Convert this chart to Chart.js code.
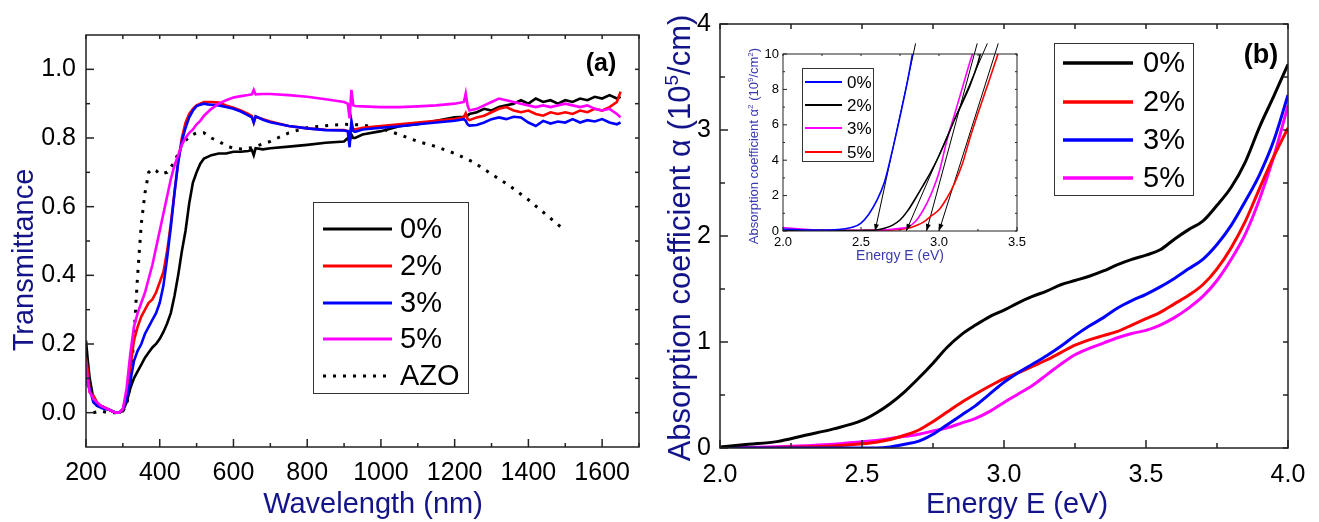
<!DOCTYPE html>
<html>
<head>
<meta charset="utf-8">
<title>Transmittance and absorption coefficient</title>
<script src="https://cdn.jsdelivr.net/npm/chart.js@4.4.1/dist/chart.umd.min.js"></script>
<style>
  html, body { margin: 0; padding: 0; background: #ffffff; }
  body { position: relative; width: 1319px; height: 522px; overflow: hidden; }
  canvas { position: absolute; }
</style>
</head>
<body>
<canvas id="chartA" width="650" height="522" style="left:0px; top:0px;"></canvas>
<canvas id="chartB" width="679" height="522" style="left:640px; top:0px;"></canvas>
<canvas id="chartInset" width="310" height="240" style="left:730px; top:30px;"></canvas>
<script>
// ---- panel (a): transmittance vs wavelength ----
var aWave = [200, 205, 210, 220, 230, 240, 250, 260, 270, 280, 290, 300, 310, 320, 330, 340, 350, 360, 370, 380,
  390, 400, 410, 420, 430, 440, 450, 460, 470, 480, 490, 500, 510, 520, 530, 540, 560, 580, 600, 620,
  640, 650, 655, 660, 680, 700, 750, 800, 850, 900, 910, 915, 920, 925, 930, 950, 1000, 1050, 1100, 1150,
  1200, 1225, 1230, 1235, 1240, 1260, 1280, 1300, 1320, 1340, 1360, 1380, 1400, 1420, 1440, 1460, 1480, 1500, 1520, 1540,
  1560, 1580, 1600, 1620, 1640, 1650];
var aT0 = [0.21, 0.15, 0.10, 0.04, 0.02, 0.02, 0.015, 0.01, 0.005, 0.0, 0.0, 0.005, 0.03, 0.07, 0.10, 0.12, 0.14, 0.16, 0.175, 0.19,
  0.20, 0.215, 0.235, 0.26, 0.29, 0.34, 0.40, 0.47, 0.53, 0.61, 0.67, 0.70, 0.725, 0.74, 0.745, 0.75, 0.755, 0.755, 0.76, 0.76,
  0.762, 0.765, 0.75, 0.77, 0.767, 0.77, 0.775, 0.78, 0.786, 0.79, 0.80, 0.79, 0.81, 0.80, 0.80, 0.81, 0.82, 0.834, 0.84, 0.85,
  0.86, 0.862, 0.868, 0.865, 0.87, 0.875, 0.885, 0.88, 0.89, 0.895, 0.90, 0.91, 0.90, 0.915, 0.905, 0.91, 0.90, 0.91, 0.905, 0.915,
  0.91, 0.92, 0.915, 0.925, 0.915, 0.92];
var aT2 = [0.16, 0.12, 0.06, 0.05, 0.03, 0.02, 0.015, 0.01, 0.005, 0.0, 0.0, 0.01, 0.05, 0.13, 0.21, 0.25, 0.28, 0.30, 0.32, 0.33,
  0.35, 0.38, 0.41, 0.47, 0.55, 0.64, 0.73, 0.80, 0.845, 0.87, 0.885, 0.895, 0.90, 0.905, 0.905, 0.905, 0.903, 0.895, 0.888, 0.88,
  0.87, 0.864, 0.845, 0.862, 0.855, 0.848, 0.835, 0.828, 0.824, 0.823, 0.82, 0.81, 0.835, 0.825, 0.825, 0.83, 0.835, 0.84, 0.845, 0.85,
  0.855, 0.86, 0.872, 0.855, 0.852, 0.86, 0.865, 0.875, 0.885, 0.89, 0.88, 0.875, 0.88, 0.87, 0.865, 0.875, 0.87, 0.875, 0.87, 0.88,
  0.875, 0.885, 0.88, 0.89, 0.905, 0.935];
var aT3 = [0.10, 0.08, 0.07, 0.03, 0.02, 0.015, 0.01, 0.01, 0.005, 0.0, 0.0, 0.01, 0.04, 0.09, 0.15, 0.18, 0.20, 0.23, 0.25, 0.27,
  0.29, 0.32, 0.37, 0.45, 0.54, 0.64, 0.73, 0.79, 0.83, 0.86, 0.88, 0.893, 0.897, 0.90, 0.898, 0.897, 0.895, 0.89, 0.885, 0.877,
  0.866, 0.86, 0.845, 0.863, 0.853, 0.846, 0.835, 0.828, 0.823, 0.822, 0.82, 0.773, 0.85, 0.82, 0.818, 0.825, 0.83, 0.834, 0.84, 0.845,
  0.85, 0.855, 0.85, 0.84, 0.836, 0.838, 0.845, 0.855, 0.86, 0.855, 0.862, 0.86, 0.845, 0.835, 0.85, 0.842, 0.848, 0.845, 0.855, 0.845,
  0.852, 0.848, 0.855, 0.845, 0.84, 0.845];
var aT5 = [0.15, 0.09, 0.06, 0.04, 0.03, 0.02, 0.015, 0.01, 0.005, 0.0, 0.0, 0.01, 0.07, 0.17, 0.25, 0.29, 0.32, 0.35, 0.39, 0.43,
  0.48, 0.53, 0.58, 0.63, 0.68, 0.72, 0.75, 0.78, 0.80, 0.815, 0.825, 0.84, 0.85, 0.865, 0.875, 0.885, 0.90, 0.91, 0.918, 0.922,
  0.925, 0.927, 0.94, 0.927, 0.928, 0.928, 0.925, 0.92, 0.913, 0.905, 0.90, 0.857, 0.94, 0.895, 0.893, 0.892, 0.89, 0.89, 0.892, 0.895,
  0.90, 0.905, 0.93, 0.895, 0.88, 0.885, 0.895, 0.905, 0.915, 0.91, 0.905, 0.90, 0.895, 0.89, 0.895, 0.89, 0.895, 0.90, 0.895, 0.89,
  0.895, 0.885, 0.88, 0.885, 0.87, 0.86];
var aWaveAZO = [220, 240, 260, 280, 300, 310, 320, 330, 340, 350, 360, 370, 380, 390, 400, 420, 440, 460, 480, 500,
  520, 540, 560, 580, 600, 620, 650, 700, 750, 800, 850, 900, 950, 1000, 1050, 1100, 1150, 1200, 1250, 1300,
  1350, 1400, 1450, 1500];
var aTAZO = [0.0, 0.005, 0.0, 0.0, 0.005, 0.02, 0.08, 0.22, 0.40, 0.55, 0.64, 0.70, 0.71, 0.705, 0.695, 0.70, 0.73, 0.78, 0.805, 0.815,
  0.815, 0.80, 0.79, 0.778, 0.77, 0.768, 0.772, 0.79, 0.815, 0.83, 0.836, 0.84, 0.838, 0.828, 0.81, 0.79, 0.775, 0.755, 0.73, 0.695,
  0.66, 0.62, 0.575, 0.53];
var aXTicks = [200, 400, 600, 800, 1000, 1200, 1400, 1600];
var aXMinor = [300, 500, 700, 900, 1100, 1300, 1500, 1700];
var aYTicks = [0, 0.2, 0.4, 0.6, 0.8, 1.0];
var aYMinor = [0.1, 0.3, 0.5, 0.7, 0.9];

// ---- panel (b): absorption coefficient vs energy ----
var bEnergy = [2.0, 2.1, 2.2, 2.3, 2.4, 2.5, 2.55, 2.6, 2.65, 2.7, 2.75, 2.8, 2.85, 2.9, 2.95, 3.0, 3.05, 3.1,
  3.15, 3.2, 3.25, 3.3, 3.35, 3.4, 3.45, 3.5, 3.55, 3.6, 3.65, 3.7, 3.75, 3.8, 3.85, 3.9, 3.95, 4.0];
var bAlpha0 = [0.01, 0.035, 0.06, 0.12, 0.18, 0.26, 0.33, 0.42, 0.53, 0.66, 0.80, 0.95, 1.07, 1.16, 1.24, 1.30, 1.37, 1.43,
  1.48, 1.54, 1.58, 1.62, 1.67, 1.73, 1.78, 1.82, 1.87, 1.97, 2.06, 2.14, 2.29, 2.46, 2.70, 3.03, 3.32, 3.62];
var bAlpha2 = [0.0, 0.0, 0.005, 0.01, 0.02, 0.04, 0.055, 0.08, 0.12, 0.17, 0.25, 0.34, 0.43, 0.51, 0.585, 0.655, 0.71, 0.77,
  0.83, 0.90, 0.97, 1.02, 1.06, 1.10, 1.16, 1.22, 1.28, 1.36, 1.44, 1.54, 1.69, 1.89, 2.14, 2.45, 2.75, 3.02];
var bAlpha3 = [0.0, 0.0, 0.0, 0.0, 0.0, 0.0, 0.0, 0.01, 0.035, 0.065, 0.13, 0.22, 0.31, 0.40, 0.51, 0.62, 0.71, 0.79,
  0.87, 0.96, 1.06, 1.15, 1.23, 1.32, 1.39, 1.45, 1.52, 1.60, 1.69, 1.78, 1.92, 2.10, 2.33, 2.58, 2.90, 3.33];
var bAlpha5 = [0.0, 0.005, 0.012, 0.022, 0.035, 0.06, 0.07, 0.09, 0.11, 0.13, 0.16, 0.19, 0.235, 0.28, 0.345, 0.43, 0.51, 0.59,
  0.69, 0.79, 0.88, 0.94, 0.99, 1.04, 1.08, 1.11, 1.16, 1.23, 1.32, 1.43, 1.58, 1.78, 2.02, 2.35, 2.75, 3.23];
var bXTicks = [2.0, 2.5, 3.0, 3.5, 4.0];
var bXMinor = [2.25, 2.75, 3.25, 3.75];
var bYTicks = [0, 1, 2, 3, 4];
var bYMinor = [0.5, 1.5, 2.5, 3.5];

// ---- inset: alpha^2 vs energy with tangent lines ----
var iE0 = [2.0, 2.1, 2.2, 2.3, 2.4, 2.45, 2.5, 2.55, 2.6, 2.65, 2.7, 2.75, 2.8, 2.83];
var iA0 = [0.11, 0.07, 0.05, 0.06, 0.13, 0.22, 0.45, 0.95, 1.7, 2.75, 4.5, 6.46, 8.55, 10];
var iE2 = [2.0, 2.2, 2.4, 2.5, 2.6, 2.65, 2.7, 2.75, 2.8, 2.85, 2.9, 2.95, 3.0, 3.05, 3.1, 3.15, 3.2, 3.25, 3.265];
var iA2 = [0.02, 0.02, 0.02, 0.03, 0.06, 0.15, 0.32, 0.62, 1.15, 1.85, 2.6, 3.37, 4.25, 5.25, 6.3, 7.25, 8.25, 9.5, 10];
var iE3 = [2.0, 2.1, 2.2, 2.4, 2.6, 2.7, 2.75, 2.8, 2.85, 2.9, 2.95, 3.0, 3.05, 3.1, 3.15, 3.2, 3.215];
var iA3 = [0.2, 0.12, 0.06, 0.04, 0.06, 0.1, 0.15, 0.22, 0.55, 1.2, 2.1, 3.3, 5.1, 6.6, 8.1, 9.6, 10];
var iE5 = [2.0, 2.2, 2.4, 2.6, 2.7, 2.75, 2.8, 2.85, 2.9, 2.95, 3.0, 3.05, 3.1, 3.15, 3.2, 3.25, 3.3, 3.35, 3.378];
var iA5 = [0.02, 0.02, 0.02, 0.04, 0.06, 0.09, 0.15, 0.3, 0.5, 0.85, 1.2, 1.85, 2.7, 3.8, 5.3, 6.65, 7.95, 9.25, 10];
var iTanStart = [2.59, 2.79, 2.92, 3.00];   // x-intercepts (band gap)
var iTanEnd = [2.85, 3.31, 3.245, 3.38];
var iTanY = [0, 10.6];
var iXTicks = [2.0, 2.5, 3.0, 3.5];
var iXMinor = [2.25, 2.75, 3.25];
var iYTicks = [0, 2, 4, 6, 8, 10];
var iYMinor = [1, 3, 5, 7, 9];

var FONT = '"Liberation Sans", Arial, Helvetica, sans-serif';
var NAVY = '#14148a';
var INSET_BLUE = '#3a3ab0';
Chart.defaults.font.family = FONT;

function pts(xs, ys) {
  return xs.map(function (x, i) { return { x: x, y: ys[i] }; });
}

function axis(min, max, tickArr, digits, size, pad, fontSize, isX) {
  return {
    type: 'linear', min: min, max: max,
    grid: { display: false, drawTicks: false }, border: { display: false },
    ticks: {
      color: '#000', padding: pad, font: { size: fontSize }, autoSkip: false, maxRotation: 0,
      callback: function (v) { return Number(v).toFixed(digits); }
    },
    afterBuildTicks: function (s) { s.ticks = tickArr.map(function (v) { return { value: v }; }); },
    afterFit: isX ? function (s) { s.height = size; } : function (s) { s.width = size; }
  };
}

// frames, inward ticks, boxed legends, texts (chart-local pixels)
var decor = {
  chartA: {
    frame: 1.5, major: 8, minor: 4,
    xMajor: aXTicks, xMinor: aXMinor, yMajor: aYTicks, yMinor: aYMinor,
    legend: { left: 313, top: 202, width: 155, height: 191, x1: 323, x2: 392, tx: 400, rows: [229, 266, 303, 339, 376], size: 29, lw: 3 },
    texts: [
      { parts: [{ t: 'Transmittance' }], x: 33, y: 260, rot: -Math.PI / 2, size: 29, color: NAVY },
      { parts: [{ t: 'Wavelength (nm)' }], x: 373, y: 513, size: 29, color: NAVY },
      { parts: [{ t: '(a)' }], x: 601, y: 71, size: 25, bold: true, color: '#000' }
    ]
  },
  chartB: {
    frame: 1.5, major: 8, minor: 5,
    xMajor: bXTicks, xMinor: bXMinor, yMajor: bYTicks, yMinor: bYMinor,
    legend: { left: 414, top: 43, width: 139, height: 152, x1: 423, x2: 493, tx: 503, rows: [63, 102, 140, 178], size: 29, lw: 3.5 },
    texts: [
      { parts: [{ t: 'Absorption coefficient \u03b1 (10' }, { t: '5', sup: true }, { t: '/cm)' }], x: 50, y: 238, rot: -Math.PI / 2, size: 31, color: NAVY },
      { parts: [{ t: 'Energy E (eV)' }], x: 377, y: 513, size: 29, color: NAVY },
      { parts: [{ t: '(b)' }], x: 621, y: 63, size: 27, bold: true, color: '#000' }
    ]
  },
  chartInset: {
    frame: 1, major: 4, minor: 2,
    xMajor: iXTicks, xMinor: iXMinor, yMajor: iYTicks, yMinor: iYMinor,
    legend: { left: 72, top: 38, width: 71, height: 93, x1: 75, x2: 112, tx: 117, rows: [52, 75, 98, 122], size: 17, lw: 2 },
    texts: [
      { parts: [{ t: 'Absorption coefficient \u03b1' }, { t: '2', sup: true }, { t: ' (10' }, { t: '9', sup: true }, { t: '/cm' }, { t: '2', sup: true }, { t: ')' }],
        x: 28, y: 116, rot: -Math.PI / 2, size: 13, color: INSET_BLUE },
      { parts: [{ t: 'Energy E (eV)' }], x: 170, y: 230, size: 14, color: INSET_BLUE }
    ]
  }
};

function fontStr(size, bold) {
  return (bold ? 'bold ' : '') + size + 'px ' + FONT;
}

function drawText(ctx, item) {
  var total = 0, widths = [];
  item.parts.forEach(function (p) {
    ctx.font = fontStr(p.sup ? item.size * 0.62 : item.size, item.bold);
    var w = ctx.measureText(p.t).width;
    widths.push(w);
    total += w;
  });
  ctx.save();
  ctx.translate(item.x, item.y);
  if (item.rot) ctx.rotate(item.rot);
  ctx.fillStyle = item.color;
  ctx.textAlign = 'left';
  ctx.textBaseline = 'alphabetic';
  var x = -total / 2;
  item.parts.forEach(function (p, i) {
    ctx.font = fontStr(p.sup ? item.size * 0.62 : item.size, item.bold);
    ctx.fillText(p.t, x, p.sup ? -item.size * 0.4 : 0);
    x += widths[i];
  });
  ctx.restore();
}

var decorPlugin = {
  id: 'decor',
  afterDatasetsDraw: function (chart) {
    // arrow heads at the x-intercept end of tangent lines
    var ctx = chart.ctx;
    chart.data.datasets.forEach(function (ds, i) {
      if (!ds.arrow) return;
      var pts = chart.getDatasetMeta(i).data;
      var p0 = pts[0], p1 = pts[1];
      var ang = Math.atan2(p0.y - p1.y, p0.x - p1.x);
      ctx.save();
      ctx.translate(p0.x, p0.y);
      ctx.rotate(ang);
      ctx.fillStyle = '#000';
      ctx.beginPath();
      ctx.moveTo(0, 0);
      ctx.lineTo(-7, -2.5);
      ctx.lineTo(-7, 2.5);
      ctx.closePath();
      ctx.fill();
      ctx.restore();
    });
  },
  afterDraw: function (chart) {
    var d = decor[chart.canvas.id];
    if (!d) return;
    var ctx = chart.ctx, a = chart.chartArea, xs = chart.scales.x, ys = chart.scales.y;
    ctx.save();
    ctx.strokeStyle = '#222';
    ctx.lineWidth = d.frame;
    ctx.strokeRect(a.left, a.top, a.right - a.left, a.bottom - a.top);
    function seg(x1, y1, x2, y2) { ctx.beginPath(); ctx.moveTo(x1, y1); ctx.lineTo(x2, y2); ctx.stroke(); }
    d.xMajor.concat(d.xMinor).forEach(function (v, k) {
      var px = xs.getPixelForValue(v), len = k < d.xMajor.length ? d.major : d.minor;
      seg(px, a.bottom, px, a.bottom - len);
      seg(px, a.top, px, a.top + d.minor);
    });
    d.yMajor.concat(d.yMinor).forEach(function (v, k) {
      var py = ys.getPixelForValue(v), len = k < d.yMajor.length ? d.major : d.minor;
      seg(a.left, py, a.left + len, py);
      seg(a.right, py, a.right - d.minor, py);
    });
    // boxed legend
    var lg = d.legend;
    ctx.fillStyle = '#fff';
    ctx.fillRect(lg.left, lg.top, lg.width, lg.height);
    ctx.strokeStyle = '#333';
    ctx.lineWidth = 1;
    ctx.strokeRect(lg.left + 0.5, lg.top + 0.5, lg.width, lg.height);
    var items = chart.data.datasets.filter(function (ds) { return ds.label; });
    items.forEach(function (ds, i) {
      var y = lg.rows[i];
      ctx.strokeStyle = ds.borderColor;
      ctx.lineWidth = ds.borderDash ? ds.borderWidth : lg.lw;
      ctx.setLineDash(ds.borderDash || []);
      seg(lg.x1, y, lg.x2, y);
      ctx.setLineDash([]);
      ctx.fillStyle = '#000';
      ctx.font = fontStr(lg.size);
      ctx.textAlign = 'left';
      ctx.textBaseline = 'middle';
      ctx.fillText(ds.label, lg.tx, y + 1);
    });
    ctx.restore();
    d.texts.forEach(function (t) { drawText(ctx, t); });
  }
};

var common = {
  responsive: false, animation: false, devicePixelRatio: 1,
  elements: { point: { radius: 0 } },
  plugins: { legend: { display: false }, tooltip: { enabled: false } }
};

function opts(extra) {
  return Object.assign({}, common, extra);
}

new Chart(document.getElementById('chartA'), {
  type: 'line',
  data: {
    datasets: [
      { label: '0%', data: pts(aWave, aT0), borderColor: '#000000', borderWidth: 2.6, order: 3 },
      { label: '2%', data: pts(aWave, aT2), borderColor: '#ff0000', borderWidth: 2.6, order: 2 },
      { label: '3%', data: pts(aWave, aT3), borderColor: '#0000ff', borderWidth: 2.6, order: 1 },
      { label: '5%', data: pts(aWave, aT5), borderColor: '#ff00ff', borderWidth: 2.6, order: 0 },
      { label: 'AZO', data: pts(aWaveAZO, aTAZO), borderColor: '#000000', borderWidth: 3, borderDash: [3, 7], borderCapStyle: 'butt', order: 4 }
    ]
  },
  options: opts({
    layout: { padding: { top: 35, right: 11, left: 0, bottom: 0 } },
    elements: { point: { radius: 0 }, line: { tension: 0 } },
    scales: {
      x: axis(200, 1700, aXTicks, 0, 75, 11, 25, true),
      y: axis(-0.1, 1.1, aYTicks, 1, 86, 10, 25, false)
    }
  }),
  plugins: [decorPlugin]
});

new Chart(document.getElementById('chartB'), {
  type: 'line',
  data: {
    datasets: [
      { label: '0%', data: pts(bEnergy, bAlpha0), borderColor: '#000000', borderWidth: 3, order: 0 },
      { label: '2%', data: pts(bEnergy, bAlpha2), borderColor: '#ff0000', borderWidth: 3, order: 2 },
      { label: '3%', data: pts(bEnergy, bAlpha3), borderColor: '#0000ff', borderWidth: 3, order: 1 },
      { label: '5%', data: pts(bEnergy, bAlpha5), borderColor: '#ff00ff', borderWidth: 3, order: 3 }
    ]
  },
  options: opts({
    layout: { padding: { top: 22, right: 31, left: 0, bottom: 0 } },
    elements: { point: { radius: 0 }, line: { cubicInterpolationMode: 'monotone' } },
    scales: {
      x: axis(2.0, 4.0, bXTicks, 1, 74, 12, 25, true),
      y: axis(0, 4, bYTicks, 0, 80, 9, 25, false)
    }
  }),
  plugins: [decorPlugin]
});

var tangentSets = iTanStart.map(function (e0, k) {
  return {
    label: '', data: pts([e0, iTanEnd[k]], iTanY), borderColor: '#000000', borderWidth: 1,
    clip: false, arrow: true, cubicInterpolationMode: 'default', tension: 0
  };
});

new Chart(document.getElementById('chartInset'), {
  type: 'line',
  data: {
    datasets: [
      { label: '0%', data: pts(iE0, iA0), borderColor: '#0000ff', borderWidth: 1.6 },
      { label: '2%', data: pts(iE2, iA2), borderColor: '#000000', borderWidth: 1.6 },
      { label: '3%', data: pts(iE3, iA3), borderColor: '#ff00ff', borderWidth: 1.6 },
      { label: '5%', data: pts(iE5, iA5), borderColor: '#ff0000', borderWidth: 1.6 }
    ].concat(tangentSets)
  },
  options: opts({
    layout: { padding: { top: 24, right: 23, left: 0, bottom: 0 } },
    elements: { point: { radius: 0 }, line: { cubicInterpolationMode: 'monotone' } },
    scales: {
      x: axis(2.0, 3.5, iXTicks, 1, 39, 4, 13, true),
      y: axis(0, 10, iYTicks, 0, 53, 4, 13, false)
    }
  }),
  plugins: [decorPlugin]
});
</script>
</body>
</html>
